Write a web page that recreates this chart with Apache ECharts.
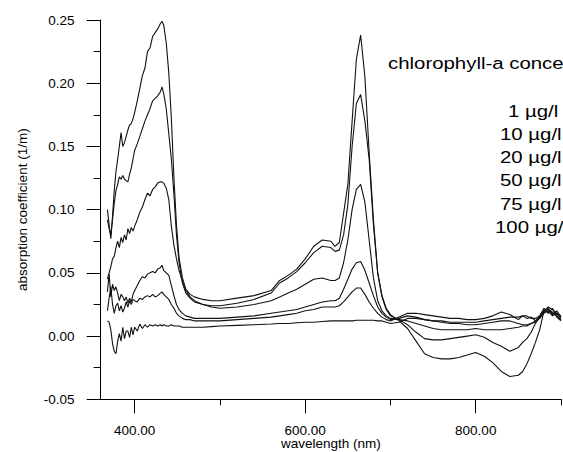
<!DOCTYPE html>
<html><head><meta charset="utf-8">
<script src="https://cdn.jsdelivr.net/npm/echarts@6/dist/echarts.min.js"></script>
<style>html,body{margin:0;padding:0;background:#fff}#c{width:563px;height:452px}</style>
</head><body><div id="c"></div>
<script>
const wavelengths = [368,370,372,374,376,378,380,382,384,386,388,390,392,394,396,398,400,
  403,406,409,412,415,418,421,424,427,430,
  432,434,437,440,443,446,449,452,456,460,
  465,470,480,490,500,
  520,540,560,570,580,590,600,610,620,630,635,
  640,645,650,655,660,665,670,675,680,685,690,695,700,
  710,720,730,740,750,760,770,780,790,800,810,820,830,840,850,
  855,860,865,870,875,880,885,890,895,900];

const conc1 = [0.012,0.011,0.005,-0.006,-0.012,-0.014,-0.004,0.002,-0.004,0.007,-0.002,0.004,0.004,-0.001,0.007,0.001,0.007,
  0.004,0.0095,0.006,0.009,0.007,0.009,0.008,0.009,0.008,0.009,
  0.008,0.009,0.008,0.008,0.009,0.008,0.008,0.008,0.007,0.007,
  0.007,0.007,0.007,0.0075,0.008,
  0.0085,0.009,0.0095,0.010,0.010,0.0105,0.011,0.011,0.0115,0.012,0.012,
  0.012,0.012,0.012,0.012,0.0125,0.0125,0.0125,0.0125,0.0125,0.012,0.012,0.011,0.010,
  0.011,0.014,0.014,0.013,0.012,0.012,0.011,0.011,0.011,0.011,0.012,0.013,0.014,0.015,0.015,
  0.016,0.016,0.014,0.014,0.016,0.020,0.023,0.021,0.018,0.016];

const conc10 = [0.020,0.030,0.039,0.025,0.018,0.024,0.026,0.020,0.024,0.019,0.022,0.027,0.023,0.028,0.025,0.029,0.028,
  0.027,0.030,0.029,0.031,0.032,0.031,0.033,0.031,0.032,0.034,
  0.035,0.033,0.031,0.029,0.025,0.022,0.018,0.016,0.014,0.013,
  0.013,0.012,0.012,0.012,0.012,
  0.013,0.014,0.015,0.016,0.017,0.018,0.020,0.021,0.023,0.023,0.023,
  0.024,0.027,0.031,0.035,0.038,0.038,0.033,0.027,0.022,0.018,0.015,0.013,0.012,
  0.015,0.018,0.018,0.017,0.016,0.015,0.014,0.014,0.013,0.013,0.014,0.016,0.019,0.017,0.013,
  0.016,0.014,0.015,0.012,0.016,0.022,0.018,0.022,0.015,0.012];

const conc20 = [0.035,0.049,0.031,0.041,0.036,0.039,0.034,0.028,0.033,0.031,0.028,0.031,0.026,0.030,0.027,0.033,0.036,
  0.040,0.044,0.047,0.046,0.049,0.050,0.051,0.050,0.053,0.054,
  0.056,0.052,0.050,0.048,0.040,0.032,0.025,0.021,0.018,0.016,
  0.015,0.014,0.014,0.014,0.014,
  0.015,0.016,0.018,0.019,0.020,0.021,0.023,0.025,0.027,0.028,0.028,
  0.030,0.037,0.045,0.053,0.058,0.059,0.052,0.042,0.032,0.023,0.018,0.015,0.013,
  0.014,0.016,0.015,0.013,0.012,0.011,0.010,0.010,0.009,0.009,0.010,0.011,0.012,0.012,0.010,
  0.009,0.009,0.010,0.011,0.014,0.018,0.020,0.019,0.016,0.013];

const conc50 = [0.045,0.050,0.055,0.061,0.063,0.070,0.075,0.070,0.078,0.074,0.080,0.076,0.085,0.081,0.086,0.083,0.087,
  0.092,0.098,0.102,0.108,0.113,0.111,0.116,0.118,0.121,0.122,
  0.122,0.121,0.117,0.108,0.087,0.072,0.061,0.052,0.043,0.036,
  0.031,0.028,0.025,0.023,0.022,
  0.023,0.025,0.028,0.031,0.034,0.037,0.041,0.045,0.046,0.044,0.044,
  0.046,0.058,0.076,0.100,0.116,0.120,0.106,0.076,0.046,0.028,0.020,0.016,0.014,
  0.013,0.012,0.010,0.008,0.006,0.005,0.005,0.005,0.005,0.006,0.005,0.005,0.005,0.006,0.007,
  0.008,0.008,0.010,0.012,0.015,0.019,0.020,0.016,0.018,0.014];

const conc75 = [0.092,0.085,0.080,0.092,0.105,0.115,0.120,0.126,0.124,0.127,0.124,0.123,0.122,0.128,0.133,0.140,0.147,
  0.152,0.158,0.164,0.170,0.175,0.180,0.186,0.188,0.190,0.193,
  0.197,0.192,0.180,0.160,0.140,0.112,0.080,0.058,0.042,0.034,
  0.030,0.027,0.025,0.024,0.024,
  0.026,0.029,0.034,0.042,0.046,0.051,0.058,0.066,0.071,0.070,0.067,
  0.068,0.080,0.104,0.150,0.184,0.191,0.170,0.140,0.088,0.050,0.031,0.021,0.016,
  0.013,0.009,0.003,-0.002,-0.003,-0.003,-0.002,-0.001,0.000,0.001,-0.001,-0.005,-0.008,-0.012,-0.009,
  -0.005,-0.002,0.003,0.010,0.015,0.020,0.022,0.017,0.020,0.015];

const conc100 = [0.100,0.088,0.077,0.095,0.115,0.130,0.140,0.150,0.161,0.150,0.153,0.158,0.163,0.167,0.168,0.172,0.177,
  0.186,0.196,0.206,0.212,0.225,0.228,0.237,0.240,0.243,0.247,
  0.249,0.246,0.232,0.208,0.172,0.125,0.088,0.062,0.046,0.037,
  0.033,0.031,0.029,0.028,0.028,
  0.030,0.032,0.036,0.044,0.048,0.053,0.061,0.071,0.076,0.075,0.071,
  0.074,0.097,0.120,0.170,0.219,0.238,0.205,0.145,0.092,0.050,0.032,0.022,0.017,
  0.012,0.006,-0.004,-0.014,-0.017,-0.018,-0.018,-0.017,-0.015,-0.013,-0.016,-0.021,-0.028,-0.032,-0.031,
  -0.028,-0.022,-0.014,-0.005,0.005,0.020,0.021,0.018,0.016,0.013];

const xMajorTicks = [400, 600, 800];
const xMinorTicks = [500, 700, 900];
// legend texts exactly as far as they are visible in the reference (cut by the figure edge)
const legendTitle = 'chlorophyll-a conce';
const legendLabels = ['1 µg/l', '10 µg/l', '20 µg/l', '50 µg/l', '75 µg/l', '100 µg/'];
const seriesValues = [conc1, conc10, conc20, conc50, conc75, conc100];

const FONT = '"Liberation Sans", Arial, sans-serif';
const INK = '#000';
const chart = echarts.init(document.getElementById('c'), null, {renderer: 'svg'});

const legendTexts = [{
  type: 'text', x: 388, y: 63.5, scaleX: 1.2,
  style: {text: legendTitle, font: '17px ' + FONT, fill: INK, textAlign: 'left', textVerticalAlign: 'middle'}
}].concat(legendLabels.map((t, i) => ({
  type: 'text', x: 495 + (i === 0 ? 13 : (i === 5 ? 0 : 5)), y: 111 + i * 23.2, scaleX: 1.2,
  style: {text: t, font: '17px ' + FONT, fill: INK, textAlign: 'left', textVerticalAlign: 'middle'}
})));

chart.setOption({
  animation: false,
  backgroundColor: '#fff',
  grid: {left: 100.6, right: 2, top: 20, bottom: 52.7, containLabel: false, outerBoundsMode: 'none'},
  xAxis: [{
    type: 'value', min: 360, max: 900, position: 'bottom',
    name: 'wavelength (nm)', nameLocation: 'middle', nameGap: 38, nameMoveOverlap: false,
    nameTextStyle: {fontFamily: FONT, fontSize: 13.5, lineHeight: 13, color: INK, verticalAlign: 'top'},
    axisLine: {show: true, onZero: false, lineStyle: {color: INK, width: 1}},
    axisTick: {show: true, customValues: xMajorTicks, length: 14, lineStyle: {color: INK}},
    axisLabel: {customValues: xMajorTicks, formatter: v => v.toFixed(2), margin: 25, lineHeight: 12,
      fontFamily: FONT, fontSize: 13.5, color: INK},
    splitLine: {show: false}
  }, {
    type: 'value', min: 360, max: 900, position: 'bottom',
    axisLine: {show: false, onZero: false},
    axisTick: {show: true, customValues: xMinorTicks, length: 6, lineStyle: {color: INK}},
    axisLabel: {show: false},
    splitLine: {show: false}
  }],
  yAxis: {
    type: 'value', min: -0.05, max: 0.25, interval: 0.05,
    name: 'absorption coefficient (1/m)', nameLocation: 'middle', nameGap: 71,
    nameTextStyle: {fontFamily: FONT, fontSize: 13.5, color: INK},
    axisLine: {show: true, onZero: false, lineStyle: {color: INK, width: 1}},
    axisTick: {show: true, length: 14, lineStyle: {color: INK}},
    minorTick: {show: true, splitNumber: 2, length: 7, lineStyle: {color: INK}},
    axisLabel: {formatter: v => v.toFixed(2), margin: 26, fontFamily: FONT, fontSize: 13.5, color: INK},
    splitLine: {show: false}
  },
  series: seriesValues.map((vals, i) => ({
    type: 'line', name: legendLabels[i], xAxisIndex: 0,
    data: wavelengths.map((w, j) => [w, vals[j]]),
    symbol: 'none', showSymbol: false,
    lineStyle: {color: '#111', width: 1.1}
  })),
  graphic: legendTexts
});
</script></body></html>
